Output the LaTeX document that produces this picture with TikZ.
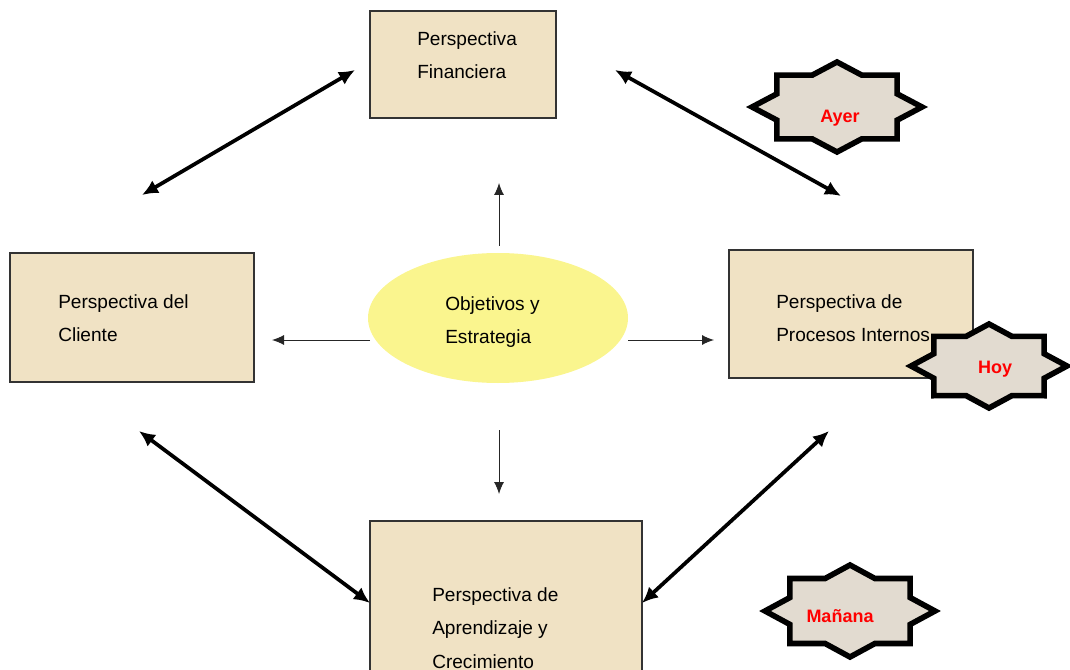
\documentclass[tikz,border=0pt]{standalone}
\usepackage{fontspec}
\setmainfont{Liberation Sans}
\usetikzlibrary{arrows.meta,shapes.geometric}
\definecolor{parch}{HTML}{F0E2C4}
\definecolor{starfill}{HTML}{E2DBD0}
\definecolor{ellfill}{HTML}{FAF58E}
\tikzset{
  boxst/.style={draw=black!80, line width=0.9pt, fill=parch, rectangle, inner sep=0pt},
  boxtext/.style={anchor=north west, inner sep=0pt, align=left, font=\fontsize{14.3}{24.9}\selectfont},
  thinarrow/.style={-{Latex[length=9pt,width=7.5pt]}, line width=0.7pt, black!85},
  dblarrow/.style={{Latex[length=12pt,width=11pt]}-{Latex[length=12pt,width=11pt]}, line width=2.8pt},
  starline/.style={draw=black, line width=4.2pt, fill=starfill, line join=miter},
  startext/.style={text=red, font=\bfseries\fontsize{13.5}{16}\selectfont, inner sep=0pt},
}
\newcommand{\mystar}[4]{% cx cy hw hh
  \begin{scope}[shift={(#1,#2)}, xscale=#3, yscale=#4]
    \draw[starline] plot[samples at={0,22.5,...,337.5}] ({cos(\x)*ifthenelse(mod(round(\x/22.5),2)==0,1,0.765)},{sin(\x)*ifthenelse(mod(round(\x/22.5),2)==0,1,0.765)}) -- cycle;
  \end{scope}}
\begin{document}
\begin{tikzpicture}[x=0.75pt,y=-0.75pt]
\useasboundingbox (0,0) rectangle (1070,670);
\clip (0,0) rectangle (1070,670);
% boxes
\node[boxst, minimum width={186*0.75pt}, minimum height={107*0.75pt}] (fin) at (463,64.5) {};
\node[boxst, minimum width={244*0.75pt}, minimum height={129*0.75pt}] (cli) at (132,317.5) {};
\node[boxst, minimum width={244*0.75pt}, minimum height={128*0.75pt}] (pro) at (851,314) {};
\node[boxst, minimum width={272*0.75pt}, minimum height={170*0.75pt}] (apr) at (506,606) {};
\node[boxtext] (fint) at (417,31) {Perspectiva\\Financiera};
\node[boxtext] (clit) at (58,294) {Perspectiva del\\Cliente};
\node[boxtext] (prot) at (776,294) {Perspectiva de\\Procesos Internos};
\node[boxtext, font=\fontsize{14.3}{25.3}\selectfont] (aprt) at (432,587) {Perspectiva de\\Aprendizaje y\\Crecimiento};
% ellipse
\node[ellipse, fill=ellfill, minimum width={260*0.75pt}, minimum height={130*0.75pt}, inner sep=0pt] (ell) at (498,318) {};
\node[boxtext] (ellt) at (445,296) {Objetivos y\\Estrategia};
% thin arrows
\coordinate (u1) at (499,246); \coordinate (u2) at (499,183);
\coordinate (l1) at (370,340); \coordinate (l2) at (272,340);
\coordinate (r1) at (628,340); \coordinate (r2) at (714,340);
\coordinate (d1) at (499,430); \coordinate (d2) at (499,494);
\draw[thinarrow] (u1) -- (u2);
\draw[thinarrow] (l1) -- (l2);
\draw[thinarrow] (r1) -- (r2);
\draw[thinarrow] (d1) -- (d2);
% thick double arrows
\coordinate (a1) at (142,195); \coordinate (a2) at (355,70);
\coordinate (b1) at (615,70); \coordinate (b2) at (841,196);
\coordinate (c1) at (139,431); \coordinate (c2) at (370,603);
\coordinate (e1) at (642,603); \coordinate (e2) at (829,431);
\draw[dblarrow] (a1) -- (a2);
\draw[dblarrow] (b1) -- (b2);
\draw[dblarrow] (c1) -- (c2);
\draw[dblarrow] (e1) -- (e2);
% stars
\mystar{837}{107}{85}{45}
\node[startext] (ayer) at (840,118) {Ayer};
\mystar{989}{366}{78}{42}
\node[startext] (hoy) at (995,369) {Hoy};
\mystar{850}{611}{85}{46}
\node[startext] (man) at (840,616) {Mañana};
\end{tikzpicture}
\end{document}
